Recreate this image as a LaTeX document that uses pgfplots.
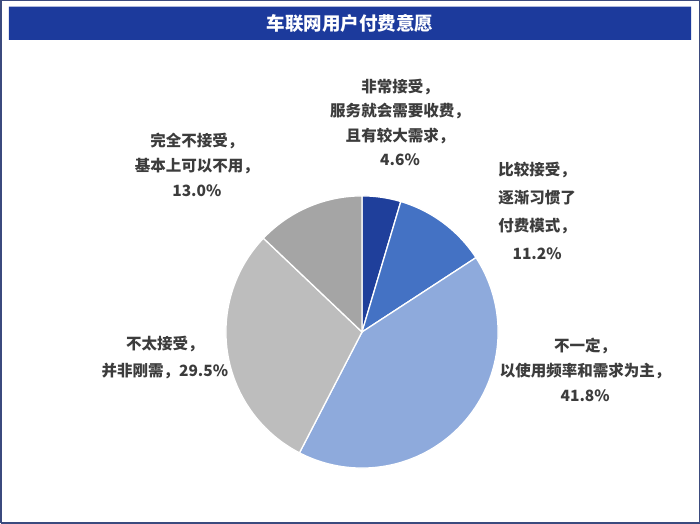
\documentclass[border=0pt]{standalone}
\usepackage{pgfplots}
\pgfplotsset{compat=1.18}
\usepackage{fontspec}
\setmainfont{Noto Sans CJK SC}
\definecolor{titlebar}{HTML}{1C3A9C}
\definecolor{frame}{HTML}{3B4A7E}
\definecolor{cA}{HTML}{1F3F9B}
\definecolor{cB}{HTML}{4472C4}
\definecolor{cC}{HTML}{8EAADC}
\definecolor{cD}{HTML}{BDBDBD}
\definecolor{cE}{HTML}{A5A5A5}
\definecolor{txt}{HTML}{3C3C3C}
\tikzset{lbl/.style={font=\bfseries\fontsize{15.5}{18}\selectfont, text=txt, align=center, inner sep=0pt}}
\begin{document}
\begin{tikzpicture}
\begin{axis}[x=1pt,y=1pt,xmin=0,xmax=700,ymin=0,ymax=524,hide axis,clip=false]
% frame and title bar
\addplot[draw=frame, line width=1.5pt, fill=white] coordinates {(1,1) (699,1) (699,523) (1,523) (1,1)};
\addplot[draw=none, fill=titlebar] coordinates {(9,484) (691,484) (691,517) (9,517) (9,484)};
\node[inner sep=0pt, text=white, font=\bfseries\fontsize{18.5}{21}\selectfont] at (axis cs:350,500.5) {车联网用户付费意愿};
% pie slices (percent values: 4.6, 11.2, 41.8, 29.5, 13.0), start at 12 o'clock, clockwise
\addplot[fill=cA, draw=white, line width=1.3pt, domain={90}:{90-3.6*4.6}, samples=20, variable=\t]
  ({362+136*cos(\t)},{192+136*sin(\t)}) -- (axis cs:362,192) -- cycle;
\addplot[fill=cB, draw=white, line width=1.3pt, domain={90-3.6*4.6}:{90-3.6*(4.6+11.2)}, samples=30, variable=\t]
  ({362+136*cos(\t)},{192+136*sin(\t)}) -- (axis cs:362,192) -- cycle;
\addplot[fill=cC, draw=white, line width=1.3pt, domain={90-3.6*(4.6+11.2)}:{90-3.6*(4.6+11.2+41.8)}, samples=80, variable=\t]
  ({362+136*cos(\t)},{192+136*sin(\t)}) -- (axis cs:362,192) -- cycle;
\addplot[fill=cD, draw=white, line width=1.3pt, domain={90-3.6*(4.6+11.2+41.8)}:{90-3.6*(4.6+11.2+41.8+29.5)}, samples=60, variable=\t]
  ({362+136*cos(\t)},{192+136*sin(\t)}) -- (axis cs:362,192) -- cycle;
\addplot[fill=cE, draw=white, line width=1.3pt, domain={90-3.6*(4.6+11.2+41.8+29.5)}:{-270}, samples=30, variable=\t]
  ({362+136*cos(\t)},{192+136*sin(\t)}) -- (axis cs:362,192) -- cycle;
% labels
\node[lbl, anchor=north] at (axis cs:400,445) {非常接受，\\[6.5pt]服务就会需要收费，\\[6.5pt]且有较大需求，\\[6.5pt]4.6\%};
\node[lbl, anchor=north] at (axis cs:537,362) {比较接受，\\[10pt]逐渐习惯了\\[10pt]付费模式，\\[10pt]11.2\%};
\node[lbl, anchor=north] at (axis cs:585,186) {不一定，\\[7pt]以使用频率和需求为主，\\[7pt]41.8\%};
\node[lbl, anchor=north] at (axis cs:165,188) {不太接受，\\[9pt]并非刚需，29.5\%};
\node[lbl, anchor=north] at (axis cs:197,391) {完全不接受，\\[7pt]基本上可以不用，\\[7pt]13.0\%};
\end{axis}
\end{tikzpicture}
\end{document}
